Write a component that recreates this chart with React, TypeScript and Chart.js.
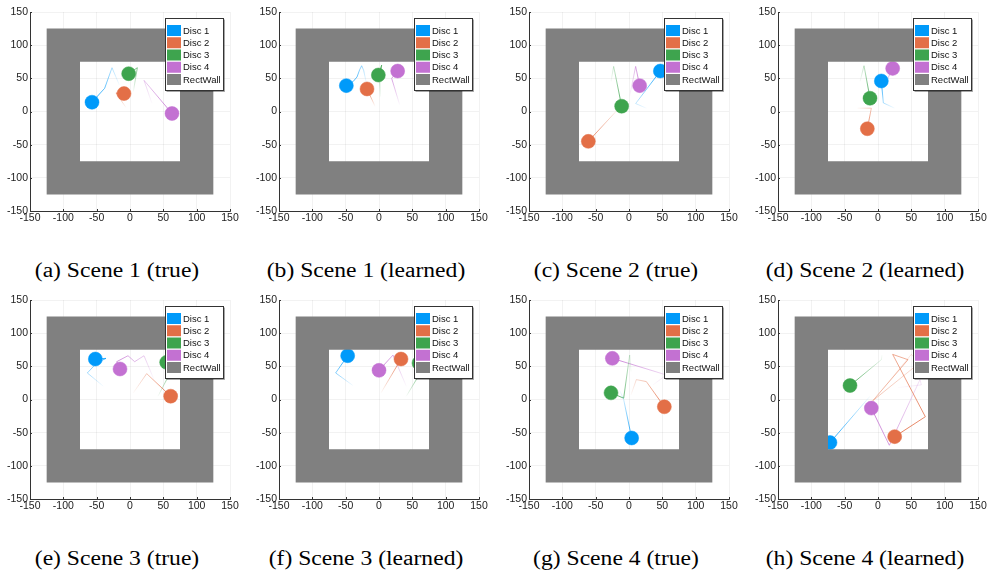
import React, { useEffect, useRef } from "react";
import { Chart, registerables } from "chart.js";

Chart.register(...registerables);

// ---------- data ----------
const DISC_LABELS = ["Disc 1", "Disc 2", "Disc 3", "Disc 4"];
const WALL_LABEL = "RectWall";
const DISC_COLORS = ["#009AFA", "#E36F47", "#3EA44E", "#C371D2"];
const WALL_COLOR = "#808080";
const AXIS_TICKS = [-150, -100, -50, 0, 50, 100, 150];
const AXIS_MIN = -150;
const AXIS_MAX = 150;
const WALL_OUTER = 125;
const WALL_INNER = 75;

type Pt = [number, number];

// each disc: trajectory points (oldest first); last point = disc position
const SCENE1_TRUE: Pt[][] = [
  [[-16, 40], [-27, 66], [-38, 35], [-57, 14]],
  [[-6, 6], [-21, 28], [-9, 27]],
  [[5, 30], [11, 66], [-2, 57]],
  [[33, 12], [21, 47], [63, -3]],
];
const SCENE1_LEARNED: Pt[][] = [
  [[-19, 43], [-23, 62], [-26, 69], [-29, 63], [-33, 52], [-39, 45], [-49, 39]],
  [[-6, 8], [-18, 34]],
  [[2, 22], [1, 48], [4, 70], [-1, 55]],
  [[31, 10], [19, 50], [28, 61]],
];
const SCENE2_TRUE: Pt[][] = [
  [[26, 5], [10, 12], [47, 61]],
  [[-15, 5], [-61, -45]],
  [[-27, 45], [-23, 68], [-11, 8]],
  [[1, 23], [10, 68], [16, 39]],
];
const SCENE2_LEARNED: Pt[][] = [
  [[25, 5], [8, 13], [5, 46]],
  [[-31, 5], [-10, 5], [-16, -26]],
  [[-27, 45], [-21, 69], [-12, 20]],
  [[10, 40], [22, 65]],
];
const SCENE3_TRUE: Pt[][] = [
  [[-40, 20], [-64, 40], [-50, 55], [-36, 62], [-52, 61]],
  [[5, 10], [25, 39], [61, 5]],
  [[42, 5], [55, 30], [55, 56]],
  [[36, 30], [21, 66], [7, 57], [-3, 66], [-20, 57], [-15, 46]],
];
const SCENE3_LEARNED: Pt[][] = [
  [[-39, 21], [-65, 40], [-47, 66]],
  [[3, 10], [33, 61]],
  [[41, 5], [56, 30], [60, 55]],
  [[41, 20], [21, 67], [0, 44]],
];
const SCENE4_TRUE: Pt[][] = [
  [[-14, 14], [-8, 0], [4, -58]],
  [[3, 7], [11, 30], [26, 27], [53, -11]],
  [[3, 42], [1, 67], [-8, 2], [-27, 10]],
  [[36, 22], [56, 37], [-25, 62]],
];
const SCENE4_LEARNED: Pt[][] = [
  [[-12, 5], [-72, -65]],
  [[-10, -5], [50, 68], [62, 55], [-8, -2], [45, 60], [22, 68], [71, -26], [25, -56]],
  [[6, 67], [5, 60], [-42, 21]],
  [[30, 18], [65, 22], [63, 30], [17, -69], [-10, -13]],
];

const PANELS: Pt[][][] = [
  SCENE1_TRUE, SCENE1_LEARNED, SCENE2_TRUE, SCENE2_LEARNED,
  SCENE3_TRUE, SCENE3_LEARNED, SCENE4_TRUE, SCENE4_LEARNED,
];
const CAPTIONS = [
  "(a) Scene 1 (true)", "(b) Scene 1 (learned)", "(c) Scene 2 (true)", "(d) Scene 2 (learned)",
  "(e) Scene 3 (true)", "(f) Scene 3 (learned)", "(g) Scene 4 (true)", "(h) Scene 4 (learned)",
];

// ---------- layout ----------
const CANVAS_W = 244;
const CANVAS_H = 240;
const COL_LEFT = [0, 249, 499, 748];
const ROW_TOP = [0, 288];
const CAPTION_CX = [117, 366, 616, 865];
const CAPTION_CY = [270, 558];
const FONT = "'Liberation Sans', Arial, Helvetica, sans-serif";

function rgba(hex: string, a: number) {
  const n = parseInt(hex.slice(1), 16);
  return `rgba(${(n >> 16) & 255},${(n >> 8) & 255},${n & 255},${a})`;
}

const wallPlugin = {
  id: "rectWall",
  afterDatasetsDraw(chart: any) {
    const { ctx, scales } = chart;
    const x = scales.x, y = scales.y;
    const ox0 = x.getPixelForValue(-WALL_OUTER), ox1 = x.getPixelForValue(WALL_OUTER);
    const oy0 = y.getPixelForValue(WALL_OUTER), oy1 = y.getPixelForValue(-WALL_OUTER);
    const ix0 = x.getPixelForValue(-WALL_INNER), ix1 = x.getPixelForValue(WALL_INNER);
    const iy0 = y.getPixelForValue(WALL_INNER), iy1 = y.getPixelForValue(-WALL_INNER);
    ctx.save();
    ctx.beginPath();
    ctx.rect(ox0, oy0, ox1 - ox0, oy1 - oy0);
    ctx.rect(ix0, iy0, ix1 - ix0, iy1 - iy0);
    ctx.fillStyle = WALL_COLOR;
    ctx.fill("evenodd");
    ctx.restore();
  },
};

const decorPlugin = {
  id: "decor",
  afterDraw(chart: any) {
    const { ctx, chartArea: a, scales } = chart;
    ctx.save();
    // inward tick marks
    ctx.strokeStyle = "#333";
    ctx.lineWidth = 1;
    ctx.beginPath();
    AXIS_TICKS.forEach((v) => {
      const px = Math.round(scales.x.getPixelForValue(v)) + 0.5;
      ctx.moveTo(px, a.bottom);
      ctx.lineTo(px, a.bottom - 2);
      const py = Math.round(scales.y.getPixelForValue(v)) + 0.5;
      ctx.moveTo(a.left, py);
      ctx.lineTo(a.left + 2, py);
    });
    ctx.stroke();

    // legend box
    const bx = Math.round(a.right - 65) + 0.5;
    const by = Math.round(a.top + 6) + 0.5;
    const bw = 58, bh = 72;
    ctx.fillStyle = "#ffffff";
    ctx.fillRect(bx, by, bw, bh);
    ctx.strokeStyle = "#333";
    ctx.strokeRect(bx, by, bw, bh);
    ctx.strokeStyle = "rgba(0,0,0,0.35)";
    ctx.beginPath();
    ctx.moveTo(bx + bw + 1, by + 1);
    ctx.lineTo(bx + bw + 1, by + bh + 1);
    ctx.lineTo(bx + 1, by + bh + 1);
    ctx.stroke();
    const items = DISC_LABELS.map((l, i) => ({ l, c: DISC_COLORS[i] }));
    items.push({ l: WALL_LABEL, c: WALL_COLOR });
    ctx.font = `9.5px ${FONT}`;
    ctx.textBaseline = "middle";
    ctx.textAlign = "left";
    items.forEach((it, i) => {
      const py = by + 6.5 + i * 12.25;
      ctx.fillStyle = it.c;
      ctx.fillRect(bx + 1.5, py, 14, 11);
      ctx.fillStyle = "#111";
      ctx.fillText(it.l, bx + 17.5, py + 6);
    });
    ctx.restore();
  },
};

function buildDatasets(traj: Pt[][]) {
  const lines: any[] = [];
  const discs: any[] = [];
  traj.forEach((pts, i) => {
    const color = DISC_COLORS[i];
    const cum: number[] = [0];
    for (let k = 1; k < pts.length; k++) {
      const dx = pts[k][0] - pts[k - 1][0];
      const dy = pts[k][1] - pts[k - 1][1];
      cum.push(cum[k - 1] + Math.hypot(dx, dy));
    }
    const total = cum[cum.length - 1] || 1;
    const alphaAt = (k: number) => 0.03 + 0.85 * (cum[k] / total);
    lines.push({
      type: "line",
      label: DISC_LABELS[i] + " trajectory",
      data: pts.map(([x, y]) => ({ x, y })),
      borderColor: rgba(color, 0.6),
      borderWidth: 1,
      pointRadius: 0,
      fill: false,
      tension: 0,
      order: 2,
      segment: {
        borderDashOffset: (sc: any) => sc.p0DataIndex,
        borderColor: (sc: any) => {
          const c = sc.chart.ctx as CanvasRenderingContext2D;
          const p0 = sc.p0, p1 = sc.p1;
          const g = c.createLinearGradient(p0.x, p0.y, p1.x + 0.001, p1.y + 0.001);
          g.addColorStop(0, rgba(color, alphaAt(sc.p0DataIndex)));
          g.addColorStop(1, rgba(color, alphaAt(sc.p1DataIndex)));
          return g;
        },
      },
    });
    const last = pts[pts.length - 1];
    discs.push({
      type: "scatter",
      label: DISC_LABELS[i],
      data: [{ x: last[0], y: last[1] }],
      backgroundColor: color,
      borderColor: color,
      borderWidth: 0.5,
      pointRadius: 7,
      pointHoverRadius: 7,
      order: 1,
    });
  });
  return [...lines, ...discs];
}

function Panel({ traj }: { traj: Pt[][] }) {
  const ref = useRef<HTMLCanvasElement | null>(null);
  useEffect(() => {
    if (!ref.current) return;
    const tickCb = (v: any) => String(v);
    const common = (isX: boolean) => ({
      type: "linear",
      min: AXIS_MIN,
      max: AXIS_MAX,
      afterBuildTicks: (s: any) => {
        s.ticks = AXIS_TICKS.map((v) => ({ value: v }));
      },
      afterFit: (s: any) => {
        if (isX) s.height = 29;
        else s.width = 30;
      },
      grid: { color: "rgba(0,0,0,0.09)", lineWidth: 0.6, drawTicks: false },
      border: { display: true, color: "#333", width: 1 },
      ticks: {
        callback: tickCb,
        font: { family: FONT, size: 10.5 },
        color: "#222",
        padding: isX ? 1 : 2,
        autoSkip: false,
        maxRotation: 0,
        minRotation: 0,
      },
    });
    const chart = new Chart(ref.current, {
      type: "scatter",
      data: { datasets: buildDatasets(traj) as any },
      options: {
        responsive: false,
        animation: false,
        events: [],
        layout: { padding: { top: 12, right: 14, left: 0, bottom: 0 } },
        plugins: { legend: { display: false }, tooltip: { enabled: false }, title: { display: false } },
        scales: { x: common(true) as any, y: common(false) as any },
      },
      plugins: [wallPlugin, decorPlugin],
    });
    return () => chart.destroy();
  }, [traj]);
  return <canvas ref={ref} width={CANVAS_W} height={CANVAS_H} style={{ width: CANVAS_W, height: CANVAS_H, display: "block" }} />;
}

export default function App() {
  return (
    <div style={{ position: "absolute", left: 0, top: 0, width: 987, height: 571, overflow: "hidden", background: "#fff" }}>
      {PANELS.map((traj, k) => {
        const col = k % 4, row = Math.floor(k / 4);
        return (
          <div key={"p" + k} style={{ position: "absolute", left: COL_LEFT[col], top: ROW_TOP[row] }}>
            <Panel traj={traj} />
          </div>
        );
      })}
      {CAPTIONS.map((txt, k) => {
        const col = k % 4, row = Math.floor(k / 4);
        return (
          <div
            key={"c" + k}
            style={{
              position: "absolute",
              left: CAPTION_CX[col] - 150,
              top: CAPTION_CY[row] - 12,
              width: 300,
              height: 24,
              lineHeight: "24px",
              textAlign: "center",
              fontFamily: "'Liberation Serif', 'Times New Roman', serif",
              fontSize: 20,
              color: "#000",
              transform: "scaleX(1.18)",
              transformOrigin: "50% 50%",
              whiteSpace: "nowrap",
            }}
          >
            {txt}
          </div>
        );
      })}
    </div>
  );
}
